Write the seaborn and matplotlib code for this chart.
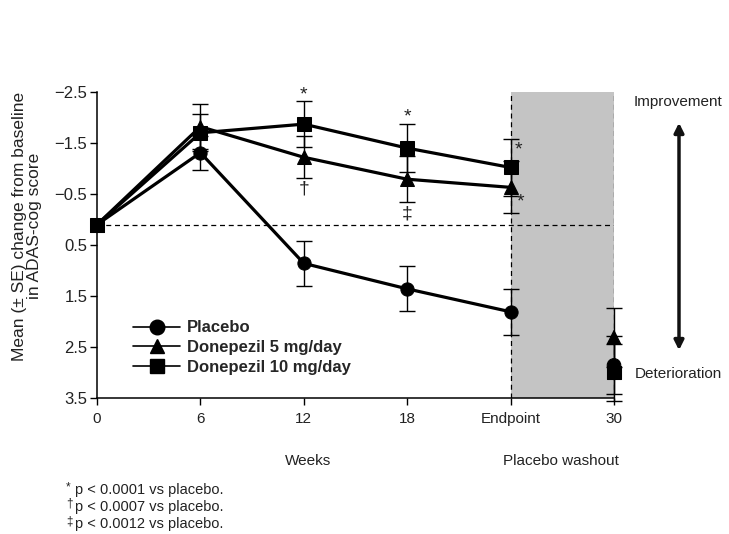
import numpy as np
import pandas as pd
import matplotlib
matplotlib.use("Agg")
import matplotlib.pyplot as plt
import seaborn as sns

# valores (escala del eje: -2.5 arriba, 3.5 abajo)
week_labels = ["0", "6", "12", "18", "Endpoint", "30"]
groups = ["Placebo", "Donepezil 5 mg/day", "Donepezil 10 mg/day"]
placebo = [0.1, -1.31, 0.86, 1.36, 1.81, 2.86]
placebo_se = [0.0, 0.33, 0.44, 0.44, 0.45, 0.57]
done5 = [0.1, -1.82, -1.22, -0.79, -0.63, 2.31]
done5_se = [0.0, 0.44, 0.41, 0.45, 0.51, 0.58]
done10 = [0.1, -1.70, -1.87, -1.40, -1.02, 3.0]
done10_se = [0.0, 0.36, 0.45, 0.47, 0.55, 0.56]
baseline = 0.1
y_ticks = [-2.5, -1.5, -0.5, 0.5, 1.5, 2.5, 3.5]

sns.set_theme(style="ticks")
plt.rcParams['font.family'] = ['Liberation Sans', 'DejaVu Sans']

W, H = 729, 534
fig = plt.figure(figsize=(W / 100, H / 100), dpi=100)
ax = fig.add_axes([97 / W, 1 - 398 / H, (614 - 97) / W, (398 - 92) / H])

pos = np.arange(len(week_labels))
rows = []
for g, vals in zip(groups, [placebo, done5, done10]):
    for p in pos[:5]:
        rows.append({"pos": p, "value": vals[p], "group": g})
df = pd.DataFrame(rows)
end = pd.DataFrame({"pos": [5] * 3, "value": [placebo[5], done5[5], done10[5]], "group": groups})

markers = {"Placebo": "o", "Donepezil 5 mg/day": "^", "Donepezil 10 mg/day": "s"}
palette = {g: "black" for g in groups}

# zona de lavado con placebo
ax.axvspan(4, 5, color="#c4c4c4", lw=0, zorder=0)
for xv in [4, 5]:
    ax.axvline(xv, color="black", lw=0.9, ls=(0, (4, 3)), zorder=1)
ax.axhline(baseline, color="black", lw=0.9, ls=(0, (4, 3)), zorder=1)

# barras de error (sin la semana 0)
for vals, se in [(placebo, placebo_se), (done5, done5_se), (done10, done10_se)]:
    ax.errorbar(pos[1:], vals[1:], yerr=se[1:], fmt="none", ecolor="black",
                elinewidth=1.0, capsize=6, capthick=1.0, zorder=2, clip_on=False)

sns.lineplot(data=df, x="pos", y="value", hue="group", style="group",
             hue_order=groups, style_order=groups, markers=markers, dashes=False,
             palette=palette, linewidth=2.3, markersize=9.5, markeredgecolor="black",
             legend=False, ax=ax, zorder=3, clip_on=False)
sns.scatterplot(data=end, x="pos", y="value", hue="group", style="group",
                hue_order=groups, style_order=groups, markers=markers,
                palette=palette, s=95, edgecolor="black", legend=False, ax=ax,
                zorder=4, clip_on=False)

ax.set_xlim(0, 5)
ax.set_ylim(3.5, -2.5)
ax.set_xticks(pos)
ax.set_xticklabels(week_labels)
ax.set_yticks(y_ticks)
ax.set_yticklabels([f"{t:.1f}".replace("-", "\u2212") for t in y_ticks])
ax.set_xlabel("")
ax.set_ylabel("")
ax.tick_params(axis="both", labelsize=11, length=5, width=1, color="black", labelcolor="#222222")
ax.tick_params(axis="y", pad=2, labelsize=12)
ax.tick_params(axis="x", pad=5)
for s in ["top", "right"]:
    ax.spines[s].set_visible(False)
for s in ["left", "bottom"]:
    ax.spines[s].set_linewidth(1.1)
    ax.spines[s].set_color("black")

# marcas de significacion
sig = [("*", 2, -2.45), ("\u2020", 2, -0.6), ("*", 3, -2.02), ("\u2021", 3, -0.1),
       ("*", 4.08, -1.37), ("*", 4.1, -0.35)]
for sym, xp, yp in sig:
    ax.text(xp, yp, sym, ha="center", va="center", fontsize=14, color="#222222")

# leyenda
handles = [plt.Line2D([], [], color="black", lw=1.2, marker=markers[g], markersize=10.5,
                      markerfacecolor="black", markeredgecolor="black") for g in groups]
fig.legend(handles, groups, loc="upper left", bbox_to_anchor=(125 / W, 1 - 312 / H),
           frameon=False, handlelength=2.8, handletextpad=0.4, labelspacing=0.28,
           borderpad=0, prop={"size": 12, "weight": "bold"})

# textos
fig.text(27 / W, 1 - 226 / H, "Mean (\u00b1 SE) change from baseline\nin ADAS-cog score",
         rotation=90, ha="center", va="center", fontsize=12.5, color="#222222", linespacing=1.05)
fig.text(308 / W, 1 - 461 / H, "Weeks", ha="center", va="center", fontsize=11, color="#222222")
fig.text(561 / W, 1 - 461 / H, "Placebo washout", ha="center", va="center", fontsize=11, color="#222222")
fig.text(678 / W, 1 - 102 / H, "Improvement", ha="center", va="center", fontsize=11, color="#222222")
fig.text(635 / W, 1 - 374 / H, "Deterioration", ha="left", va="center", fontsize=11, color="#222222")
fig.patches.append(matplotlib.patches.FancyArrowPatch(
    (679 / W, 1 - 353 / H), (679 / W, 1 - 120 / H), transform=fig.transFigure,
    arrowstyle="<|-|>", mutation_scale=14, lw=2.5, color="#111111"))

notes = [("*", "p < 0.0001 vs placebo."), ("\u2020", "p < 0.0007 vs placebo."),
         ("\u2021", "p < 0.0012 vs placebo.")]
for i, (sym, txt) in enumerate(notes):
    yy = 490 + 17 * i
    fig.text(66 / W, 1 - (yy - 3) / H, sym, ha="left", va="center", fontsize=8.5, color="#222222")
    fig.text(75 / W, 1 - yy / H, txt, ha="left", va="center", fontsize=10.5, color="#222222")

fig.savefig("out.png", dpi=100)
